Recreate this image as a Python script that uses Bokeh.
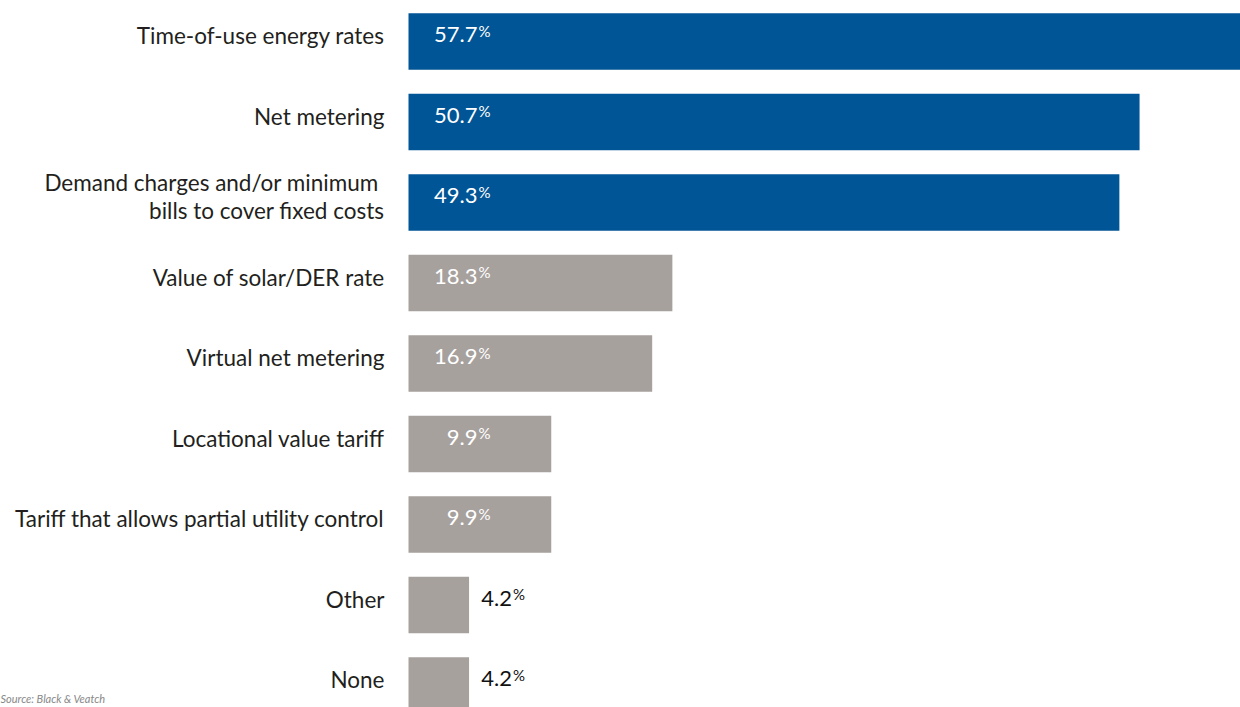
from bokeh.plotting import figure
from bokeh.models import Range1d, ColumnDataSource
from bokeh.core.properties import value
from bokeh.embed import file_html
from bokeh.resources import INLINE

categories = [
    "Time-of-use energy rates",
    "Net metering",
    "Demand charges and/or minimum \nbills to cover fixed costs",
    "Value of solar/DER rate",
    "Virtual net metering",
    "Locational value tariff",
    "Tariff that allows partial utility control",
    "Other",
    "None",
]
values = [57.7, 50.7, 49.3, 18.3, 16.9, 9.9, 9.9, 4.2, 4.2]
highlight = [True, True, True, False, False, False, False, False, False]
source_note = "Source: Black & Veatch"

BLUE = "#005596"
GRAY = "#A7A19E"
FONT = "Lato"

W, H = 1240, 707
scale = 832 / 57.7
x0 = -408 / scale
pitch = 80.5
y_top = -41 / pitch
y_bot = (H - 41) / pitch

p = figure(width=W, height=H, output_backend="svg", toolbar_location=None,
           x_range=Range1d(x0, 57.7), y_range=Range1d(y_bot, y_top),
           min_border=0, outline_line_color=None)
p.axis.visible = False
p.grid.visible = False

ys = list(range(len(values)))
colors = [BLUE if h else GRAY for h in highlight]
src = ColumnDataSource(dict(y=ys, v=values, c=colors, cat=categories))
p.hbar(y="y", left=0, right="v", height=0.7, fill_color="c", line_color=None, source=src)

p.text(x=0, y="y", text="cat", source=src, x_offset=-24, y_offset=-6,
       text_align="right", text_baseline="middle", text_font=value(FONT),
       text_font_size="22.5px", text_color="#231F20", text_line_height=1.05)

inside = [i for i, v in enumerate(values) if v > 5]
outside = [i for i, v in enumerate(values) if v <= 5]
isrc = ColumnDataSource(dict(y=[ys[i] for i in inside], x=[0] * len(inside),
                             lab=[f"{values[i]:.1f}" for i in inside]))
osrc = ColumnDataSource(dict(y=[ys[i] for i in outside], x=[values[i] for i in outside],
                             lab=[f"{values[i]:.1f}" for i in outside]))
for s, dx, col in [(isrc, 69, "white"), (osrc, 43, "#111111")]:
    p.text(x="x", y="y", text="lab", source=s, x_offset=dx, y_offset=-7,
           text_align="right", text_baseline="alphabetic", text_font=value(FONT),
           text_font_size="22px", text_color=col)
    p.text(x="x", y="y", text=value("%"), source=s, x_offset=dx + 1, y_offset=-11,
           text_align="left", text_baseline="alphabetic", text_font=value(FONT),
           text_font_size="15px", text_color=col)

p.text(x=[x0], y=[y_bot], text=[source_note], y_offset=-3, text_align="left",
       text_baseline="bottom", text_font=value(FONT), text_font_style="italic",
       text_font_size="11px", text_color="#888888")

open("out.html", "w").write(file_html(p, INLINE))
